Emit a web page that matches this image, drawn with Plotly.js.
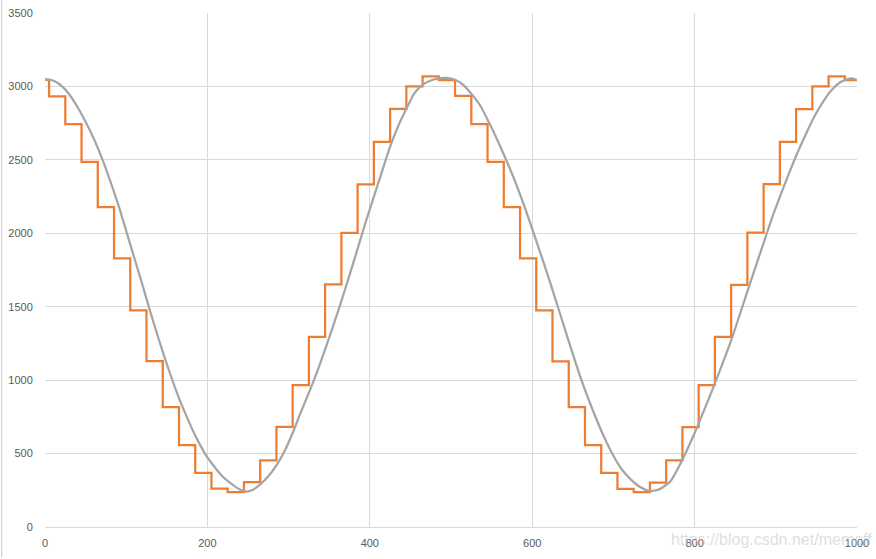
<!DOCTYPE html>
<html>
<head>
<meta charset="utf-8">
<script src="https://cdn.plot.ly/plotly-3.0.1.min.js"></script>
<style>
html,body{margin:0;padding:0;background:#fff;}
#chart{width:876px;height:559px;}
</style>
</head>
<body>
<div id="chart"></div>
<script>
// Orange series: step start positions and the level held from each start
const stepStart = [0, 5, 25, 45, 65, 85, 105, 125, 145, 165, 185, 205, 225, 245, 265, 285, 305, 325, 345, 365, 385,
  405, 425, 445, 465, 485, 505, 525, 545, 565, 585, 605, 625, 645, 665, 685, 705, 725, 745, 765, 785,
  805, 825, 845, 865, 885, 905, 925, 945, 965, 985, 1000];
const stepLevel = [3045, 2932, 2743, 2486, 2179, 1830, 1475, 1130, 816, 557, 369, 261, 238, 305, 454, 681, 966, 1295, 1652, 2003, 2333,
  2622, 2848, 3000, 3068, 3043, 2936, 2743, 2486, 2179, 1830, 1475, 1128, 816, 557, 369, 260, 237, 302, 453, 680,
  966, 1294, 1648, 2005, 2334, 2623, 2846, 3000, 3068, 3043, 3043];

// Gray smooth series
const grayX = [0, 10, 20, 30, 40, 50, 60, 72, 82, 92, 103, 113, 121, 129, 140, 150, 164, 175, 186, 199, 210, 220, 228, 238, 247,
  255, 265, 275, 285, 294, 305, 315, 325, 335, 350, 363, 375, 385, 394, 405, 415, 425, 435, 447, 455, 465, 475, 485, 495,
  505, 515, 525, 536, 548, 560, 577, 590, 604, 615, 625, 635, 647, 660, 675, 688, 700, 710, 721, 733, 745,
  757, 770, 786, 800, 815, 828, 845, 860, 872, 885, 898, 910, 926, 937, 947, 957, 968, 980, 992, 1000];
const grayY = [3050, 3040, 3005, 2945, 2860, 2760, 2645, 2485, 2330, 2164, 1960, 1777, 1630, 1478, 1280, 1110, 891, 745, 612, 482, 400, 337, 301, 262, 242,
  250, 290, 345, 420, 505, 640, 780, 915, 1055, 1290, 1504, 1715, 1895, 2060, 2250, 2420, 2590, 2730, 2870, 2955, 3010, 3040, 3055, 3058,
  3045, 3010, 2950, 2870, 2740, 2600, 2380, 2190, 1965, 1785, 1615, 1440, 1230, 1010, 790, 620, 485, 395, 326, 272, 244,
  258, 310, 470, 640, 840, 1020, 1270, 1520, 1720, 1935, 2145, 2320, 2540, 2675, 2790, 2885, 2970, 3030, 3055, 3045];

const xTicks = [0, 200, 400, 600, 800, 1000];
const yTicks = [0, 500, 1000, 1500, 2000, 2500, 3000, 3500];

const tickFont = {family: 'Liberation Sans, Arial, sans-serif', size: 11, color: '#595959'};

const traces = [
  {x: stepStart, y: stepLevel, type: 'scatter', mode: 'lines',
   line: {color: '#ED7D31', width: 2.25, shape: 'hv'}, hoverinfo: 'skip'},
  {x: grayX, y: grayY, type: 'scatter', mode: 'lines',
   line: {color: '#A5A5A5', width: 2.25, shape: 'spline', smoothing: 0.6}, hoverinfo: 'skip'}
];

const layout = {
  width: 876, height: 559,
  margin: {l: 45, r: 19, t: 13, b: 32, pad: 0},
  paper_bgcolor: '#ffffff', plot_bgcolor: '#ffffff',
  showlegend: false,
  xaxis: {range: [0, 1000], tickvals: xTicks, ticktext: xTicks.map(String),
    showgrid: true, gridcolor: '#d9d9d9', gridwidth: 1, zeroline: false,
    showline: true, linecolor: '#d9d9d9', linewidth: 1,
    ticks: 'outside', ticklen: 6, tickcolor: 'rgba(0,0,0,0)', tickfont: tickFont, fixedrange: true},
  yaxis: {range: [0, 3500], tickvals: yTicks, ticktext: yTicks.map(String),
    showgrid: true, gridcolor: '#d9d9d9', gridwidth: 1, zeroline: false, showline: false,
    ticks: 'outside', ticklen: 9, tickcolor: 'rgba(0,0,0,0)', tickfont: tickFont, fixedrange: true},
  shapes: [
    {type: 'line', xref: 'paper', yref: 'paper', x0: -0.0533, x1: -0.0533, y0: -0.06, y1: 1.03,
     line: {color: '#c8c8c8', width: 1}}
  ],
  annotations: [
    {text: 'https://blog.csdn.net/memoff', xref: 'paper', yref: 'paper', x: 0.7685, y: -0.0243,
     xanchor: 'left', yanchor: 'middle', showarrow: false,
     font: {family: 'Liberation Sans, Arial, sans-serif', size: 16, color: 'rgba(190,190,190,0.5)'}}
  ]
};

Plotly.newPlot('chart', traces, layout, {staticPlot: true, displayModeBar: false});
</script>
</body>
</html>
